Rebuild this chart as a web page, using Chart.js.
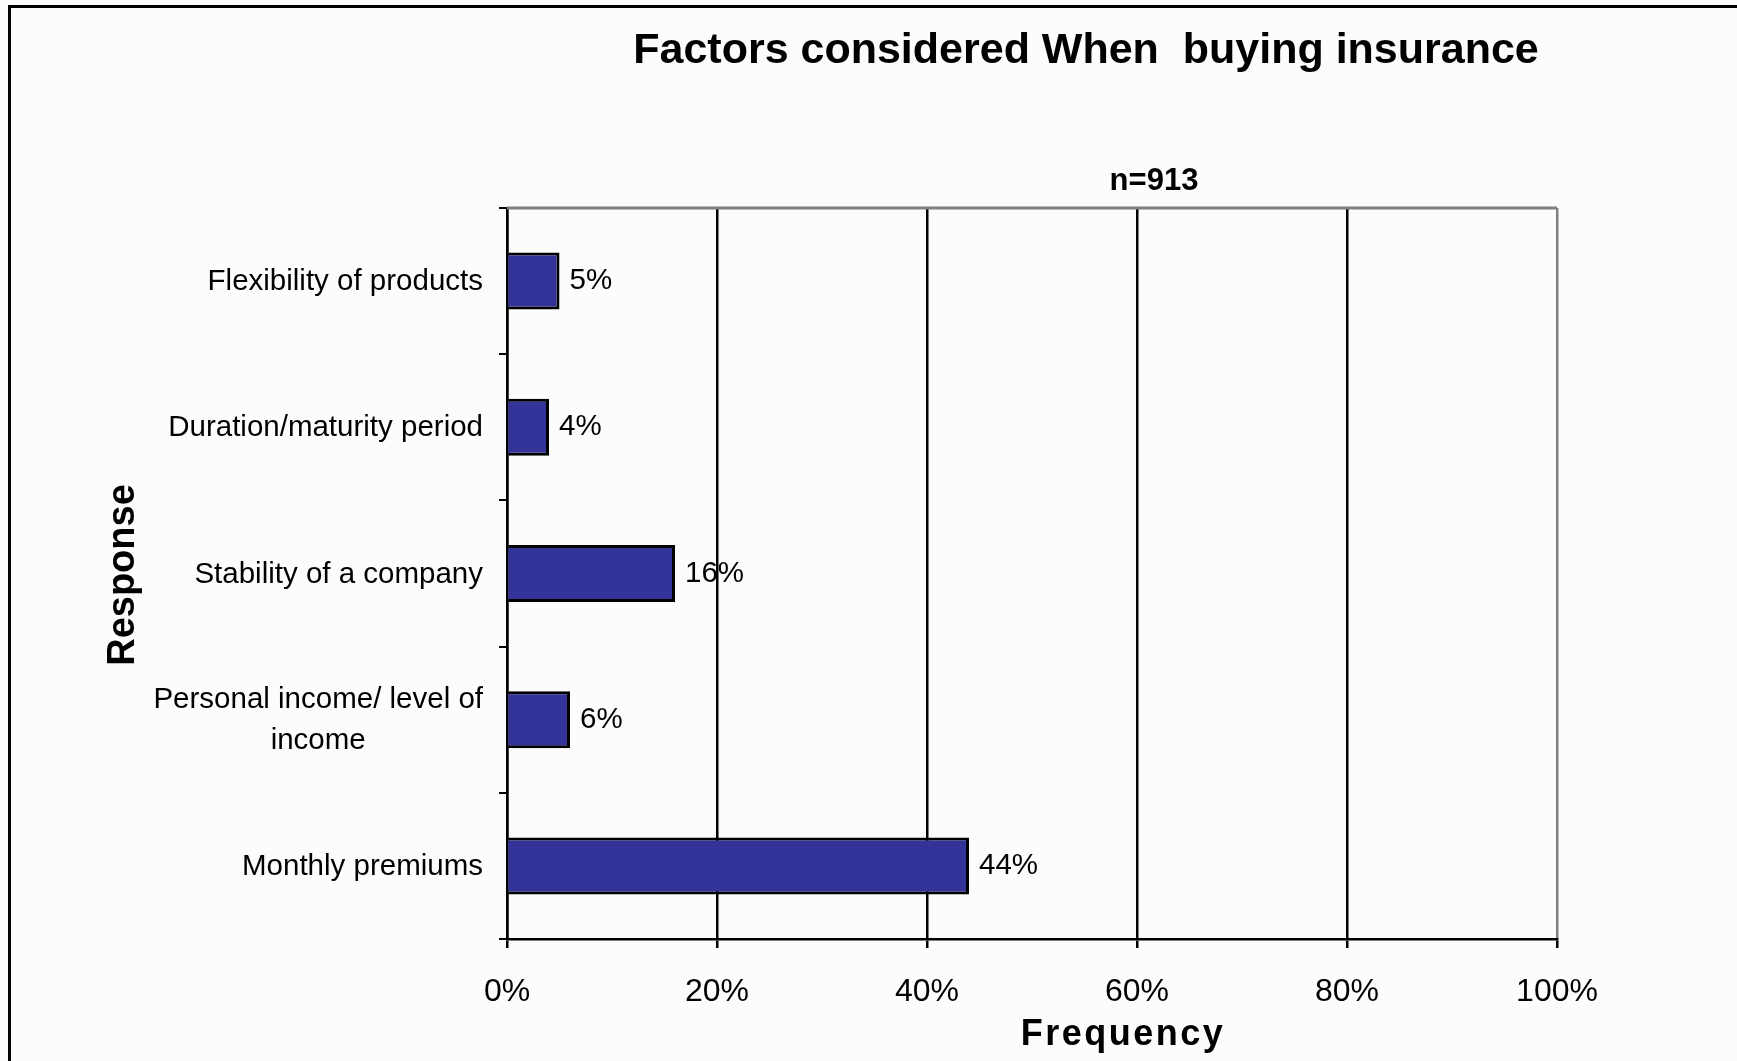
<!DOCTYPE html>
<html>
<head>
<meta charset="utf-8">
<title>Factors considered When buying insurance</title>
<script src="https://cdn.jsdelivr.net/npm/chart.js@4.4.1/dist/chart.umd.min.js"></script>
<style>
    html, body { margin: 0; padding: 0; background: #fcfcfc; }
    #wrap { width: 1737px; height: 1061px; }
</style>
</head>
<body>
<div id="wrap"><canvas id="factors-chart" width="1737" height="1061"></canvas></div>
<script>
// Chart data
var categories = [
    'Flexibility of products',
    'Duration/maturity period',
    'Stability of a company',
    ['Personal income/ level of', 'income'],
    'Monthly premiums'
];
var frequency = [5, 4, 16, 6, 44];           // percent of respondents
var xTickLabels = ['0%', '20%', '40%', '60%', '80%', '100%'];

var chartTitle = 'Factors considered When  buying insurance';
var sampleNote = 'n=913';
var xTitle = 'Frequency';
var yTitle = 'Response';

var FONT = '"Liberation Sans", Arial, Helvetica, sans-serif';

// Background, outer frame and top border of the plot
var framePlugin = {
    id: 'frame',
    beforeDraw: function (chart) {
        var ctx = chart.ctx;
        ctx.save();
        ctx.fillStyle = '#fcfcfc';
        ctx.fillRect(0, 0, chart.width, chart.height);
        ctx.strokeStyle = '#000';
        ctx.lineWidth = 3;
        ctx.beginPath();
        ctx.moveTo(9.5, chart.height);
        ctx.lineTo(9.5, 6.5);
        ctx.lineTo(chart.width, 6.5);
        ctx.stroke();
        ctx.restore();
    },
    beforeDatasetsDraw: function (chart) {
        var a = chart.chartArea;
        var ctx = chart.ctx;
        ctx.save();
        ctx.strokeStyle = '#808080';
        ctx.lineWidth = 3;
        ctx.beginPath();
        ctx.moveTo(a.left, a.top);
        ctx.lineTo(a.right, a.top);
        ctx.stroke();
        ctx.restore();
    }
};

// Texts: category labels, value labels, titles
var textPlugin = {
    id: 'texts',
    afterDraw: function (chart) {
        var ctx = chart.ctx;
        var a = chart.chartArea;
        var yScale = chart.scales.y;
        ctx.save();
        ctx.fillStyle = '#000';
        ctx.textBaseline = 'middle';

        // category labels (multi-line ones centered in their block)
        ctx.font = '29.5px ' + FONT;
        ctx.textAlign = 'center';
        var rightEdge = a.left - 24;
        var lineHeight = 41;
        chart.data.labels.forEach(function (label, i) {
            var lines = Array.isArray(label) ? label : [label];
            var maxW = 0;
            lines.forEach(function (l) { maxW = Math.max(maxW, ctx.measureText(l).width); });
            var cx = rightEdge - maxW / 2;
            var cy = yScale.getPixelForValue(i) + 1;
            var y0 = cy - (lines.length - 1) * lineHeight / 2;
            lines.forEach(function (l, k) {
                ctx.fillText(l, cx, y0 + k * lineHeight);
            });
        });

        // value labels at the end of each bar
        ctx.textAlign = 'left';
        var meta = chart.getDatasetMeta(0);
        meta.data.forEach(function (bar, i) {
            ctx.fillText(chart.data.datasets[0].data[i] + '%', bar.x + 10, bar.y);
        });

        // main title
        ctx.textAlign = 'center';
        ctx.font = 'bold 43px ' + FONT;
        ctx.fillText(chartTitle, 1086, 51);

        // sample size
        ctx.font = 'bold 31px ' + FONT;
        ctx.fillText(sampleNote, 1154, 181);

        // x axis title
        ctx.font = 'bold 36px ' + FONT;
        ctx.letterSpacing = '2.5px';
        ctx.fillText(xTitle, 1123, 1035);
        ctx.letterSpacing = '0px';

        // y axis title
        ctx.translate(124, 575);
        ctx.rotate(-Math.PI / 2);
        ctx.font = 'bold 38px ' + FONT;
        ctx.fillText(yTitle, 0, 0);
        ctx.restore();
    }
};

var ctx = document.getElementById('factors-chart').getContext('2d');
var factorsChart = new Chart(ctx, {
    type: 'bar',
    data: {
        labels: categories,
        datasets: [{
            data: frequency,
            backgroundColor: '#333399',
            borderColor: '#000',
            borderWidth: 3,
            categoryPercentage: 1.0,
            barPercentage: 0.39
        }]
    },
    options: {
        indexAxis: 'y',
        responsive: false,
        animation: false,
        layout: {
            padding: { left: 0, right: 180, top: 208, bottom: 0 }
        },
        scales: {
            x: {
                min: 0,
                max: 100,
                afterFit: function (scale) { scale.height = 122; },
                ticks: {
                    stepSize: 20,
                    padding: 25,
                    color: '#000',
                    font: { family: FONT, size: 32 },
                    callback: function (value, index) { return xTickLabels[index]; }
                },
                grid: {
                    color: function (c) {
                        return c.tick && c.tick.value === 100 ? '#808080' : '#000';
                    },
                    tickColor: '#000',
                    lineWidth: 2.5,
                    tickLength: 9
                },
                border: { color: '#000', width: 2.5 }
            },
            y: {
                afterFit: function (scale) { scale.width = 507; },
                ticks: { display: false },
                grid: {
                    offset: true,
                    drawOnChartArea: false,
                    color: '#000',
                    lineWidth: 2,
                    tickLength: 8
                },
                border: { color: '#000', width: 2.5 }
            }
        },
        plugins: {
            legend: { display: false },
            tooltip: { enabled: false }
        }
    },
    plugins: [framePlugin, textPlugin]
});
</script>
</body>
</html>
